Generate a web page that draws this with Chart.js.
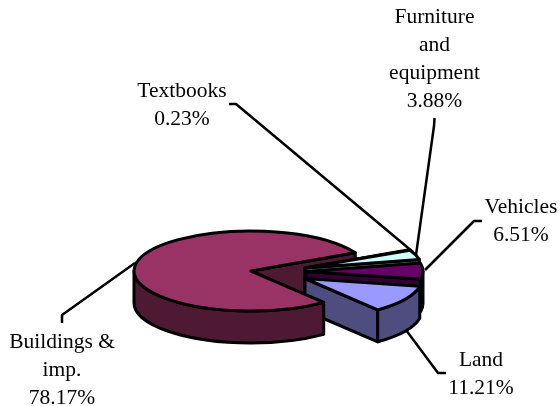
<!DOCTYPE html>
<html>
<head>
<meta charset="utf-8">
<style>body{margin:0;background:#fff}canvas{display:block}</style>
<script src="https://cdn.jsdelivr.net/npm/chart.js@4"></script>
</head>
<body>
<canvas id="myChart" width="560" height="406"></canvas>
<script>
// clockwise from the back of the pie
const categories = [["Textbooks"], ["Furniture", "and", "equipment"], ["Vehicles"], ["Land"], ["Buildings &", "imp."]];
const shares = [0.23, 3.88, 6.51, 11.21, 78.17];
const topColors = ["#ffffcc", "#ccffff", "#660066", "#9999ff", "#993366"];
const wallColors = ["#808066", "#668080", "#330033", "#4d4d80", "#4d1933"];
const explode = [[54, -3], [54, -3], [55, 0.5], [54, 7.5], [0, 0]];
const labelSpots = [[182, 97], [434.5, 23], [521, 213], [481, 366], [62, 348]];
const leaders = [
  [[229, 104], [236, 104], [413, 252]],
  [[434.5, 118], [434, 126], [416, 255]],
  [[425, 270], [474, 221], [482, 221]],
  [[406, 330], [438, 373], [446, 373]],
  [[62, 323], [62, 315], [135, 263]]
];

const squash = 0.342;
const depth = 32;

// turns the flat pie into the tilted one, the arcs still come from the controller
const tiltedPie = {
  id: "tiltedPie",
  beforeDatasetDraw(chart) {
    const ctx = chart.ctx;
    const arcs = chart.getDatasetMeta(0).data;
    const cy = arcs[0].y;

    function toTop(i, z) {
      ctx.translate(explode[i][0], explode[i][1] + z);
      ctx.translate(0, cy);
      ctx.scale(1, squash);
      ctx.translate(0, -cy);
    }
    function outline() {
      ctx.strokeStyle = "#000";
      ctx.lineWidth = 3;
      ctx.lineJoin = "round";
      ctx.stroke();
    }
    function paint(fill) {
      ctx.fillStyle = fill;
      ctx.fill();
      outline();
    }
    // radial cut face along the slice's end angle
    function endFace(i) {
      const a = arcs[i];
      const ex = a.x + Math.cos(a.endAngle) * a.outerRadius;
      const ey = a.y + Math.sin(a.endAngle) * a.outerRadius;
      ctx.beginPath();
      ctx.save();
      toTop(i, 0);
      ctx.moveTo(a.x, a.y);
      ctx.lineTo(ex, ey);
      ctx.restore();
      ctx.save();
      toTop(i, depth);
      ctx.lineTo(ex, ey);
      ctx.lineTo(a.x, a.y);
      ctx.restore();
      ctx.closePath();
      paint(wallColors[i]);
    }
    // front part of the rim, only angles 0..180 face the viewer
    function rim(i) {
      const a = arcs[i];
      const from = Math.max(a.startAngle, 0);
      const to = Math.min(a.endAngle, Math.PI);
      if (to <= from) return;
      ctx.beginPath();
      ctx.save();
      toTop(i, 0);
      ctx.arc(a.x, a.y, a.outerRadius, from, to);
      ctx.restore();
      ctx.save();
      toTop(i, depth);
      ctx.arc(a.x, a.y, a.outerRadius, to, from, true);
      ctx.restore();
      ctx.closePath();
      paint(wallColors[i]);
    }
    function topFace(i) {
      const a = arcs[i];
      ctx.save();
      toTop(i, 0);
      a.draw(ctx, chart.chartArea);
      ctx.restore();
      ctx.beginPath();
      ctx.save();
      toTop(i, 0);
      ctx.moveTo(a.x, a.y);
      ctx.arc(a.x, a.y, a.outerRadius, a.startAngle, a.endAngle);
      ctx.closePath();
      ctx.restore();
      outline();
    }

    const last = arcs.length - 1;
    endFace(last);
    arcs.forEach((a, i) => {
      if (i !== last) endFace(i);
      rim(i);
      topFace(i);
    });
    return false;
  },
  afterDraw(chart) {
    const ctx = chart.ctx;
    ctx.save();
    ctx.strokeStyle = "#000";
    ctx.lineWidth = 2.5;
    leaders.forEach(pts => {
      ctx.beginPath();
      pts.forEach((p, k) => k ? ctx.lineTo(p[0], p[1]) : ctx.moveTo(p[0], p[1]));
      ctx.stroke();
    });
    ctx.fillStyle = "#000";
    ctx.font = '21.5px "Liberation Serif"';
    ctx.textAlign = "center";
    ctx.textBaseline = "alphabetic";
    categories.forEach((name, i) => {
      const lines = name.concat(shares[i].toFixed(2) + "%");
      lines.forEach((t, k) => ctx.fillText(t, labelSpots[i][0], labelSpots[i][1] + k * 28));
    });
    ctx.restore();
  }
};

new Chart("myChart", {
  type: "pie",
  data: {
    labels: categories,
    datasets: [{
      data: shares,
      backgroundColor: topColors,
      borderWidth: 0
    }]
  },
  options: {
    responsive: false,
    animation: false,
    rotation: 63,
    radius: 117,
    layout: { padding: { left: 0, right: 58, top: 136, bottom: 0 } },
    plugins: { legend: { display: false }, tooltip: { enabled: false } }
  },
  plugins: [tiltedPie]
});
</script>
</body>
</html>
